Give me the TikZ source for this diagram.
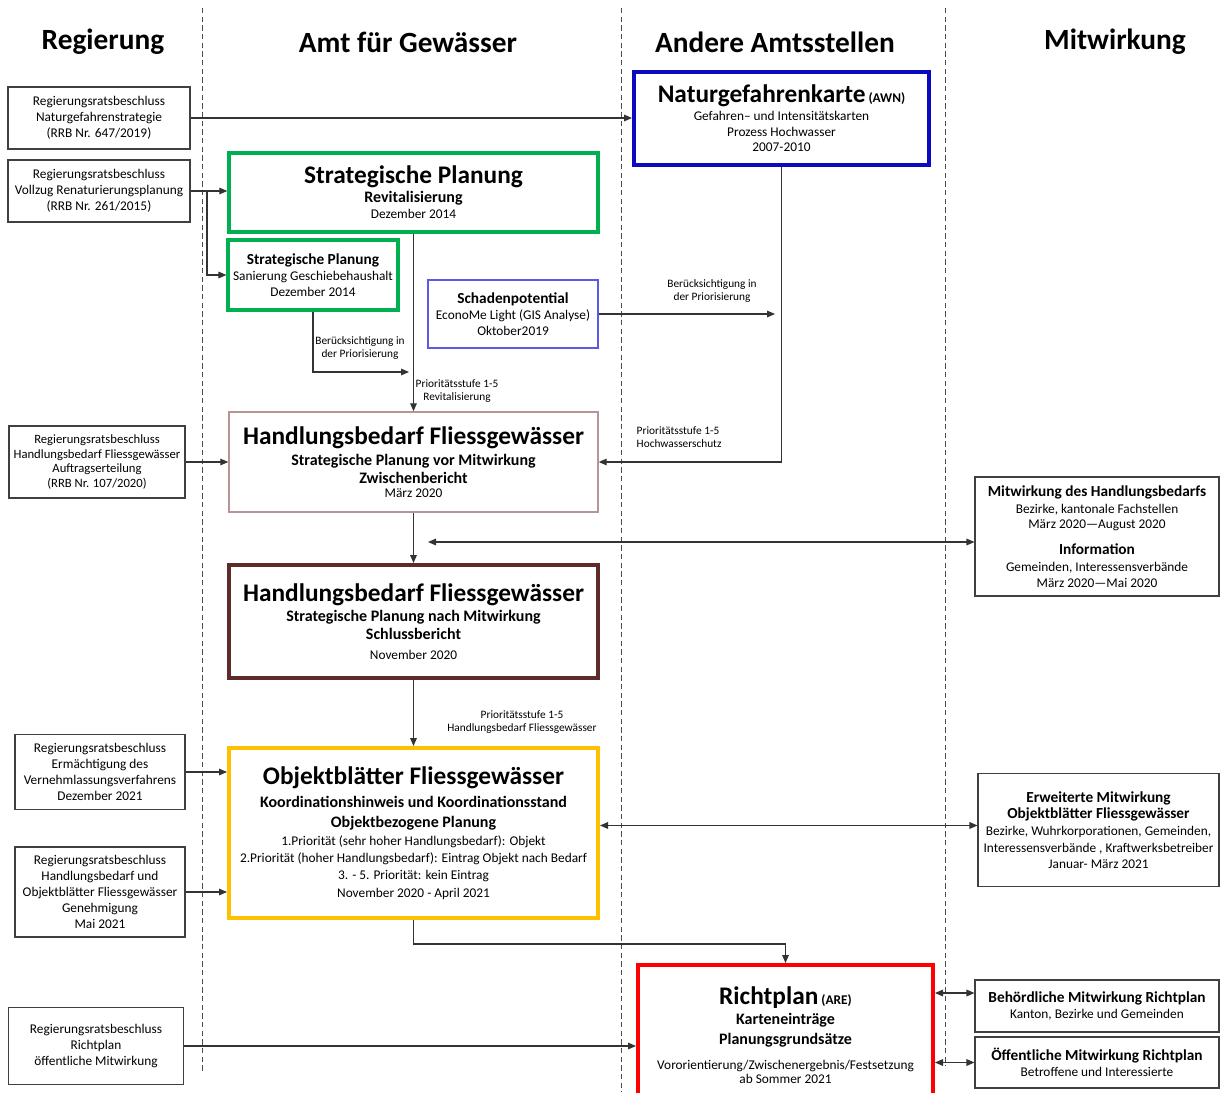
\documentclass[tikz,border=0pt]{standalone}
\usepackage{fontspec}
\setmainfont{Carlito}
\usetikzlibrary{positioning}
\usetikzlibrary{calc}
\usetikzlibrary{arrows.meta}

\definecolor{spgreen}{HTML}{00B050}
\definecolor{ngkblue}{HTML}{0A0AC0}
\definecolor{spblue}{HTML}{5A5AE6}
\definecolor{hbrose}{HTML}{B99494}
\definecolor{hbbrown}{HTML}{5E2A2A}
\definecolor{objgold}{HTML}{FFC000}
\definecolor{rpred}{HTML}{FF0000}

\newcommand\stagetitle{\fontsize{19}{22}\selectfont\bfseries}
\newcommand\stagesub{\fontsize{12}{14}\selectfont\bfseries}
\newcommand\boxhead{\fontsize{11.5}{14}\selectfont\bfseries}
\newcommand\tinybold{\fontsize{10}{12}\selectfont\bfseries}

\begin{document}
\begin{tikzpicture}[x=0.75pt, y=-0.75pt,
    dims/.style 2 args={minimum width=#1*0.75pt, minimum height=#2*0.75pt},
    RRB/.style={rectangle, draw=black!75, fill=white, line width=0.8pt, align=center, inner sep=1pt, font=\fontsize{10}{12}\selectfont},
    stage/.style={rectangle, fill=white, align=center, inner sep=1pt, font=\fontsize{10}{12}\selectfont},
    partner/.style={rectangle, draw=black!75, fill=white, line width=0.8pt, align=center, inner sep=1pt, font=\fontsize{10}{12}\selectfont},
    lane/.style={dash pattern=on 4pt off 2.5pt, black!70, line width=0.6pt},
    lanehead/.style={font=\fontsize{22}{26}\selectfont\bfseries},
    flow/.style={-{Triangle[length=6pt, width=5pt]}, line width=0.8pt, black!80},
    dflow/.style={{Triangle[length=6pt, width=5pt]}-{Triangle[length=6pt, width=5pt]}, line width=0.8pt, black!80},
    note/.style={align=center, font=\fontsize{8.5}{10}\selectfont}]

        \useasboundingbox (0,0) rectangle (1220,1092);

        % lanes
        \draw[lane] (202,8) -- (202,1072);
        \draw[lane] (621,8) -- (621,1092);
        \draw[lane] (945,8) -- (945,1066);

        \node[lanehead] (hReg) at (103,42) {Regierung};
        \node[lanehead] (hAfG) at (408,42) {Amt für Gewässer};
        \node[lanehead] (hAnd) at (775,42) {Andere Amtsstellen};
        \node[lanehead] (hMit) at (1115,42) {Mitwirkung};

        % Regierung
        \node[RRB, dims={182}{62}] (rrbA) at (99,118) {Regierungsratsbeschluss\\Naturgefahrenstrategie\\(RRB Nr. 647/2019)};
        \node[RRB, dims={182}{62}] (rrbB) at (99,191) {Regierungsratsbeschluss\\Vollzug Renaturierungsplanung\\(RRB Nr. 261/2015)};
        \node[RRB, dims={176}{72}, font=\fontsize{9.5}{11}\selectfont] (rrbC) at (97,462) {Regierungsratsbeschluss\\Handlungsbedarf Fliessgewässer\\Auftragserteilung\\(RRB Nr. 107/2020)};
        \node[RRB, dims={170}{75}] (rrbD) at (100,772) {Regierungsratsbeschluss\\Ermächtigung des\\Vernehmlassungsverfahrens\\Dezember 2021};
        \node[RRB, dims={170}{90}] (rrbE) at (100,892) {Regierungsratsbeschluss\\Handlungsbedarf und\\Objektblätter Fliessgewässer\\Genehmigung\\Mai 2021};
        \node[RRB, dims={175}{77}] (rrbF) at (96,1046) {Regierungsratsbeschluss\\Richtplan\\öffentliche Mitwirkung};

        % Amt fuer Gewaesser
        \node[stage, dims={369}{79}, draw=spgreen, line width=2.6pt] (sp1) at (413.5,192.5) {{\stagetitle Strategische Planung}\\[1.9pt]{\stagesub Revitalisierung}\\[0.5pt]Dezember 2014};
        \node[stage, dims={170}{70}, draw=spgreen, line width=2.4pt] (sp2) at (313,275) {{\boxhead Strategische Planung}\\Sanierung Geschiebehaushalt\\Dezember 2014};
        \node[stage, dims={170}{68}, draw=spblue, line width=0.9pt] (schaden) at (513,314) {{\boxhead Schadenpotential}\\EconoMe Light (GIS Analyse)\\Oktober2019};
        \node[stage, dims={369}{100}, draw=hbrose, line width=1.1pt] (hb1) at (413.5,462) {{\stagetitle Handlungsbedarf Fliessgewässer}\\[3.4pt]{\stagesub Strategische Planung vor Mitwirkung}\\[1.5pt]{\stagesub Zwischenbericht}\\[-1.5pt]März 2020};
        \node[stage, dims={369}{113}, draw=hbbrown, line width=3pt] (hb2) at (413.5,621.5) {{\stagetitle Handlungsbedarf Fliessgewässer}\\[3.2pt]{\stagesub Strategische Planung nach Mitwirkung}\\[1.5pt]{\stagesub Schlussbericht}\\[2.5pt]November 2020};
        \node[stage, dims={369}{170}, draw=objgold, line width=3pt] (obj) at (413.5,833) {{\stagetitle Objektblätter Fliessgewässer}\\[5.6pt]{\stagesub Koordinationshinweis und Koordinationsstand}\\[3pt]{\stagesub Objektbezogene Planung}\\[1.5pt]1.Priorität (sehr hoher Handlungsbedarf): Objekt\\[0.75pt]2.Priorität (hoher Handlungsbedarf): Eintrag Objekt nach Bedarf\\[0.75pt]3. - 5. Priorität: kein Eintrag\\[1.5pt]November 2020 - April 2021};

        % Andere Amtsstellen
        \node[stage, dims={295}{93}, draw=ngkblue, line width=3pt] (ngk) at (781.5,118.5) {{\stagetitle Naturgefahrenkarte} {\tinybold (AWN)}\\[1.5pt]Gefahren– und Intensitätskarten\\Prozess Hochwasser\\[-0.75pt]2007-2010};
        \node[stage, dims={295}{140}, draw=rpred, line width=3pt] (rp) at (785.5,1035) {{\stagetitle Richtplan} {\tinybold (ARE)}\\[3.4pt]{\stagesub Karteneinträge}\\[3pt]{\stagesub Planungsgrundsätze}\\[6.75pt]Vororientierung/Zwischenergebnis/Festsetzung\\[-1.5pt]ab Sommer 2021};

        % Mitwirkung
        \node[partner, dims={244}{119}] (mwA) at (1097,536.5) {{\boxhead Mitwirkung des Handlungsbedarfs}\\[0.75pt]Bezirke, kantonale Fachstellen\\[-0.75pt]März 2020—August 2020\\[7pt]{\boxhead Information}\\[0.75pt]Gemeinden, Interessensverbände\\März 2020—Mai 2020};
        \node[partner, dims={241}{113}] (mwB) at (1098.5,830) {{\boxhead Erweiterte Mitwirkung}\\{\boxhead Objektblätter Fliessgewässer}\\[1pt]Bezirke, Wuhrkorporationen, Gemeinden,\\[0.75pt]Interessensverbände , Kraftwerksbetreiber\\Januar- März 2021};
        \node[partner, dims={244}{52}] (mwC) at (1097,1006) {{\boxhead Behördliche Mitwirkung Richtplan}\\Kanton, Bezirke und Gemeinden};
        \node[partner, dims={244}{51}] (mwD) at (1097,1062.5) {{\boxhead Öffentliche Mitwirkung Richtplan}\\Betroffene und Interessierte};

        % connectors
        \draw[flow] (rrbA.east) -- (rrbA.east -| ngk.west);
        \draw[flow] (rrbB.east) -- (rrbB.east -| sp1.west);
        \coordinate (jB) at (207,191);
        \draw[flow] (jB) |- (sp2.west);

        \coordinate (p1) at (409,372);
        \draw[flow] (sp2.south) |- (p1);
        \node[note] (n1) at (360,348) {Berücksichtigung in\\der Priorisierung};

        \draw[flow] (sp1) -- (hb1);
        \node[note] (n2) at (457,391) {Prioritätsstufe 1-5\\Revitalisierung};

        \coordinate (p2) at (775,314);
        \draw[flow] (schaden.east) -- (p2);
        \node[note] (n3) at (712,291) {Berücksichtigung in\\der Priorisierung};

        \draw[flow] (ngk.south) |- (hb1.east);
        \node[note, anchor=west, align=left] (n4) at (632,437) {Prioritätsstufe 1-5\\Hochwasserschutz};

        \draw[flow] (rrbC.east) -- (rrbC.east -| hb1.west);
        \draw[flow] (hb1) -- (hb2);
        \coordinate (m1) at (428,542);
        \draw[dflow] (m1) -- (m1 -| mwA.west);

        \draw[flow] (hb2) -- (obj);
        \node[note] (n5) at (522,722) {Prioritätsstufe 1-5\\Handlungsbedarf Fliessgewässer};

        \draw[flow] (rrbD.east) -- (rrbD.east -| obj.west);
        \draw[flow] (rrbE.east) -- (rrbE.east -| obj.west);
        \draw[dflow] ([yshift=3.4pt] mwB.west -| obj.east) -- ([yshift=3.4pt] mwB.west);

        \draw[flow] (obj.south) -- ++(0,24) -| (rp.north);
        \draw[flow] (rrbF.east) -- (rrbF.east -| rp.west);
        \draw[dflow] ([yshift=9.75pt] mwC.west -| rp.east) -- ([yshift=9.75pt] mwC.west);
        \draw[dflow] (mwD.west -| rp.east) -- (mwD.west);
\end{tikzpicture}
\end{document}
